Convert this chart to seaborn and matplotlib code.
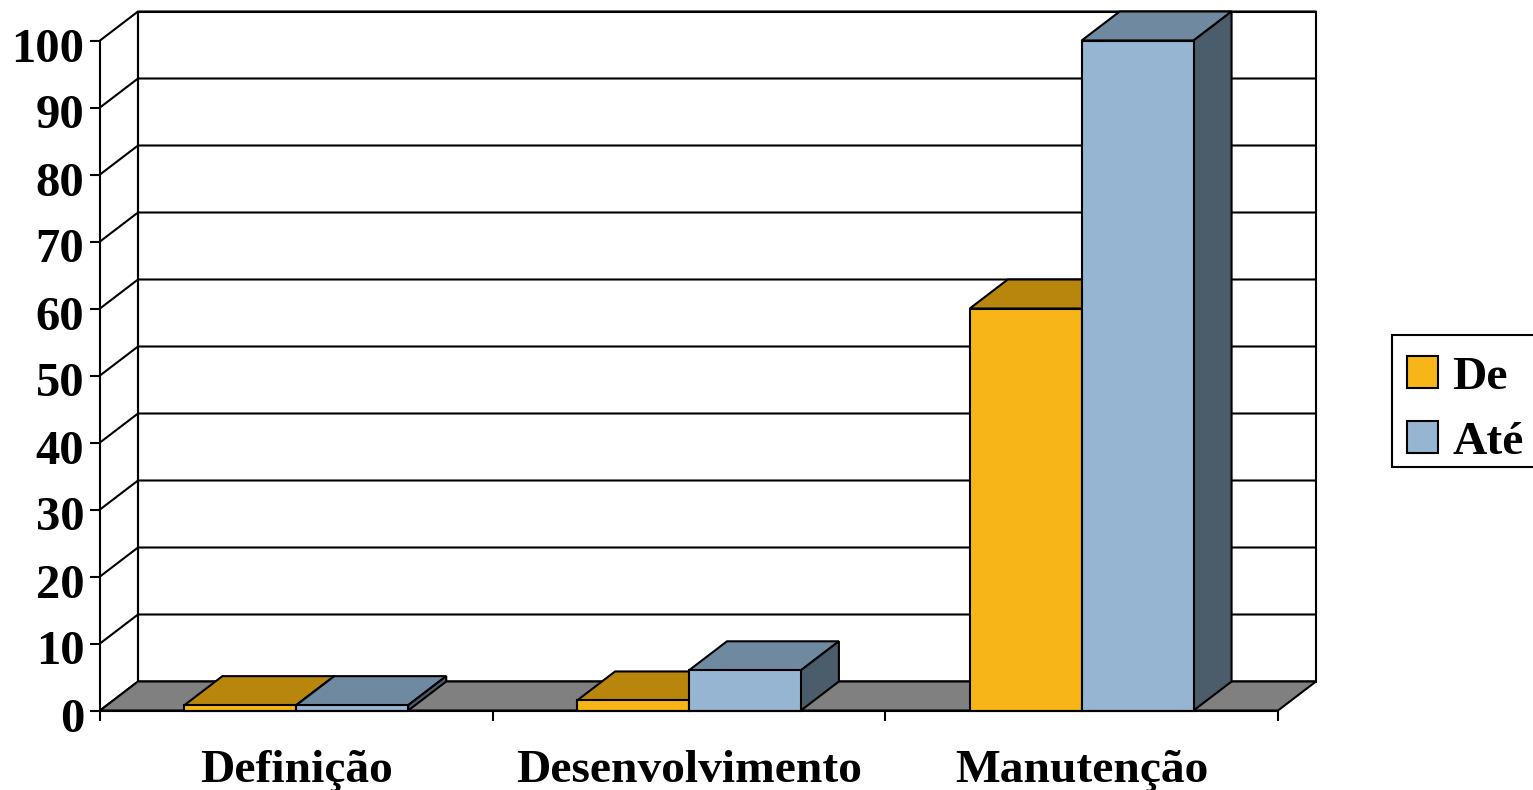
import matplotlib
matplotlib.use("Agg")
import matplotlib.pyplot as plt
from matplotlib.patches import Polygon, Patch, Rectangle
from matplotlib.transforms import ScaledTranslation
import pandas as pd
import seaborn as sns

# Effort share per software phase
phases = ["Definição", "Desenvolvimento", "Manutenção"]
de_values = [0.8, 1.5, 60]
ate_values = [0.8, 6, 100]
series_names = ["De", "Até"]
y_ticks = list(range(0, 101, 10))

front_colors = {"De": "#F8B518", "Até": "#95B5D3"}
top_colors = {"De": "#B8860C", "Até": "#6F8AA0"}
side_colors = {"De": "#7C5C08", "Até": "#4B5C6B"}
FLOOR = "#808080"
LW = 1.5
TEXT_SIZE = 34.2

W, H = 1533, 790
sns.set_theme(style="white")
plt.rcParams["font.family"] = ["Liberation Serif", "DejaVu Sans"]
plt.rcParams["font.weight"] = "bold"

fig = plt.figure(figsize=(W / 100, H / 100), dpi=100, facecolor="white")

# Pixel frame of the plot: the front plane spans 100..1278, the back wall ends at 1316
px_left, px_right, px_base, px_top = 100, 1316, 710.5, 10.7
px_per_cat = (1278 - 100) / 3
px_per_unit = 6.7
ax = fig.add_axes([px_left / W, 1 - px_base / H,
                   (px_right - px_left) / W, (px_base - px_top) / H])

df = pd.DataFrame({
    "fase": phases * 2,
    "serie": [series_names[0]] * 3 + [series_names[1]] * 3,
    "valor": de_values + ate_values,
})
sns.barplot(data=df, x="fase", y="valor", hue="serie", order=phases,
            hue_order=series_names, palette=front_colors, width=0.57, gap=0,
            edgecolor="black", linewidth=LW, saturation=1, legend=False, ax=ax)

dx = 38 / px_per_cat
dy = 29 / px_per_unit
ax.set_xlim(-0.5, 2.5 + dx)
ax.set_ylim(0, (px_base - px_top) / px_per_unit)
ax.set_facecolor("none")

# Back wall, floor and wall gridlines of the pseudo-3D box
x0, x1 = -0.5, 2.5
ymax = y_ticks[-1]
edge = dict(edgecolor="black", linewidth=LW, clip_on=False, joinstyle="miter")
ax.add_patch(Polygon([(x0 + dx, dy), (x1 + dx, dy), (x1 + dx, ymax + dy), (x0 + dx, ymax + dy)],
                     facecolor="white", zorder=0.1, **edge))
ax.add_patch(Polygon([(x0, 0), (x1, 0), (x1 + dx, dy), (x0 + dx, dy)],
                     facecolor=FLOOR, zorder=0.2, **edge))
for v in y_ticks:
    ax.plot([x0, x0 + dx, x1 + dx], [v, v + dy, v + dy], color="black", lw=LW,
            zorder=0.15, clip_on=False, solid_joinstyle="miter")
ax.plot([x0 + dx, x0 + dx], [dy, ymax + dy], color="black", lw=LW, zorder=0.15)

# Extrude each front face into a top and a side face
z = 1.0
for container, name in zip(ax.containers, series_names):
    for bar in container:
        bx, bw, bh = bar.get_x(), bar.get_width(), bar.get_height()
        ax.add_patch(Polygon([(bx, bh), (bx + bw, bh), (bx + bw + dx, bh + dy), (bx + dx, bh + dy)],
                             facecolor=top_colors[name], zorder=z, **edge))
        ax.add_patch(Polygon([(bx + bw, 0), (bx + bw + dx, dy), (bx + bw + dx, bh + dy), (bx + bw, bh)],
                             facecolor=side_colors[name], zorder=z, **edge))
        bar.set_zorder(z + 0.1)
        bar.set_clip_on(False)
        z += 1

# Axis lines and ticks
for s in ("top", "right"):
    ax.spines[s].set_visible(False)
for s in ("left", "bottom"):
    ax.spines[s].set_visible(True)
    ax.spines[s].set_color("black")
    ax.spines[s].set_linewidth(LW)
    ax.spines[s].set_zorder(50)
ax.spines["left"].set_bounds(0, ymax)
ax.spines["bottom"].set_bounds(x0, x1)

ax.set_yticks(y_ticks)
ax.set_yticklabels([str(v) for v in y_ticks], fontsize=TEXT_SIZE + 0.8, fontweight="bold", color="black")
ax.set_xticks([-0.5, 0.5, 1.5, 2.5])
ax.set_xticklabels([])
ax.set_xticks([0, 1, 2], minor=True)
ax.set_xticklabels(phases, minor=True, fontsize=TEXT_SIZE, fontweight="bold", color="black")
ax.tick_params(axis="y", which="major", left=True, length=7.2, width=LW, pad=4, color="black")
ax.tick_params(axis="x", which="major", bottom=True, length=7.2, width=LW, color="black")
ax.tick_params(axis="x", which="minor", bottom=False, length=0, pad=28.5)
ax.set_xlabel("")
ax.set_ylabel("")
shift = ScaledTranslation(0, -4 / 100, fig.dpi_scale_trans)
for lab in ax.get_yticklabels():
    lab.set_transform(lab.get_transform() + shift)

# Legend box: separate frame so the entries can sit off-centre inside it
fig.add_artist(Rectangle((1392 / W, 1 - 467 / H), 160 / W, 132 / H, transform=fig.transFigure,
                         facecolor="white", edgecolor="black", linewidth=LW, zorder=3))
handles = [Patch(facecolor=front_colors[n], edgecolor="black", linewidth=LW, label=n) for n in series_names]
leg = fig.legend(handles=handles, loc="upper left", bbox_to_anchor=(1407 / W, 1 - 356 / H),
                 fontsize=TEXT_SIZE, frameon=False, labelcolor="black",
                 handlelength=0.66, handleheight=0.66, handletextpad=0.3,
                 borderpad=0, labelspacing=0.48, borderaxespad=0)
leg.set_zorder(4)

fig.savefig("out.png", dpi=100, facecolor="white")
